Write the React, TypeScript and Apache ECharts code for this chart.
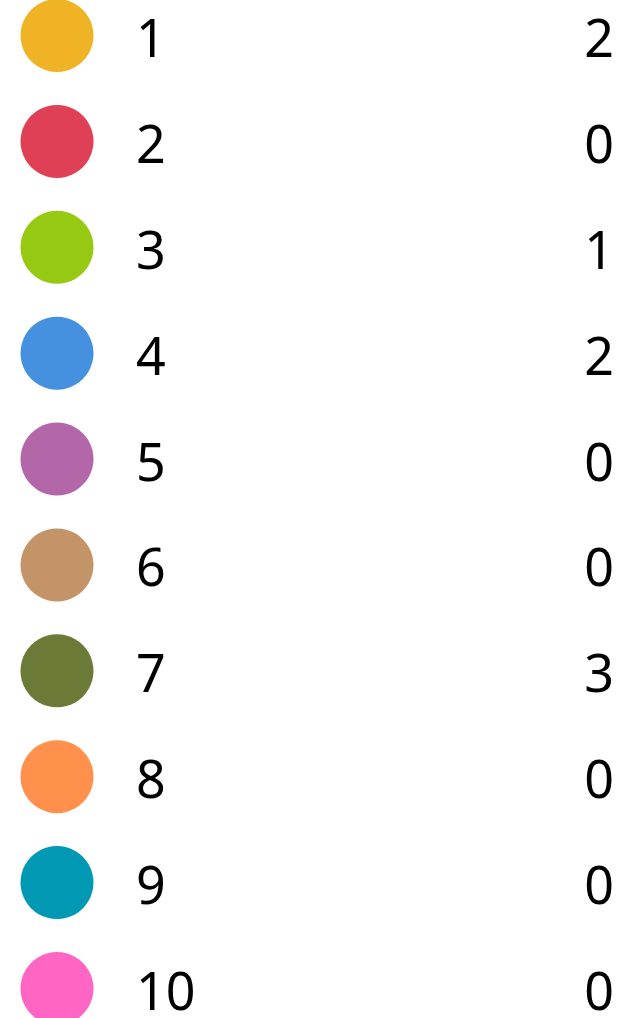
import React, { useEffect, useRef } from "react";
import * as echarts from "echarts";

const categories = ["1", "2", "3", "4", "5", "6", "7", "8", "9", "10"];
const counts = [2, 0, 1, 2, 0, 0, 3, 0, 0, 0];
const colors = [
  "#F0B325",
  "#E04055",
  "#96C912",
  "#4591E0",
  "#B366A8",
  "#C49469",
  "#6B7A37",
  "#FF914D",
  "#0098B3",
  "#FF66C4",
];

export default function App() {
  const ref = useRef<HTMLDivElement>(null);
  useEffect(() => {
    document.body.style.margin = "0";
    const chart = echarts.init(ref.current!, null, { renderer: "svg" });
    const font = "'Noto Sans', 'Open Sans', sans-serif";
    chart.setOption({
      animation: false,
      backgroundColor: "#ffffff",
      grid: { left: 57, right: 5, top: 36.5, bottom: 28.5, outerBoundsMode: "none" },
      xAxis: {
        type: "value",
        min: 0,
        max: 1,
        show: false,
      },
      yAxis: {
        type: "category",
        data: categories,
        inverse: true,
        boundaryGap: false,
        axisLine: { show: false },
        axisTick: { show: false },
        splitLine: { show: false },
        axisLabel: {
          inside: true,
          margin: 79,
          fontSize: 52,
          lineHeight: 52,
          color: "#000000",
          fontFamily: font,
        },
      },
      series: [
        {
          type: "scatter",
          symbol: "circle",
          symbolSize: 73,
          symbolOffset: [0, -1],
          itemStyle: { opacity: 1 },
          data: categories.map((c, i) => ({
            value: [0, i],
            itemStyle: { color: colors[i], opacity: 1 },
          })),
        },
        {
          type: "scatter",
          symbolSize: 0,
          itemStyle: { opacity: 1 },
          data: categories.map((c, i) => [1, i, counts[i]]),
          label: {
            show: true,
            position: "left",
            distance: 0,
            fontSize: 52,
            lineHeight: 52,
            color: "#000000",
            opacity: 1,
            fontFamily: font,
            formatter: (p: any) => String(p.value[2]),
          },
        },
      ],
    });
    return () => chart.dispose();
  }, []);
  return <div ref={ref} style={{ width: 619, height: 1018 }} />;
}
